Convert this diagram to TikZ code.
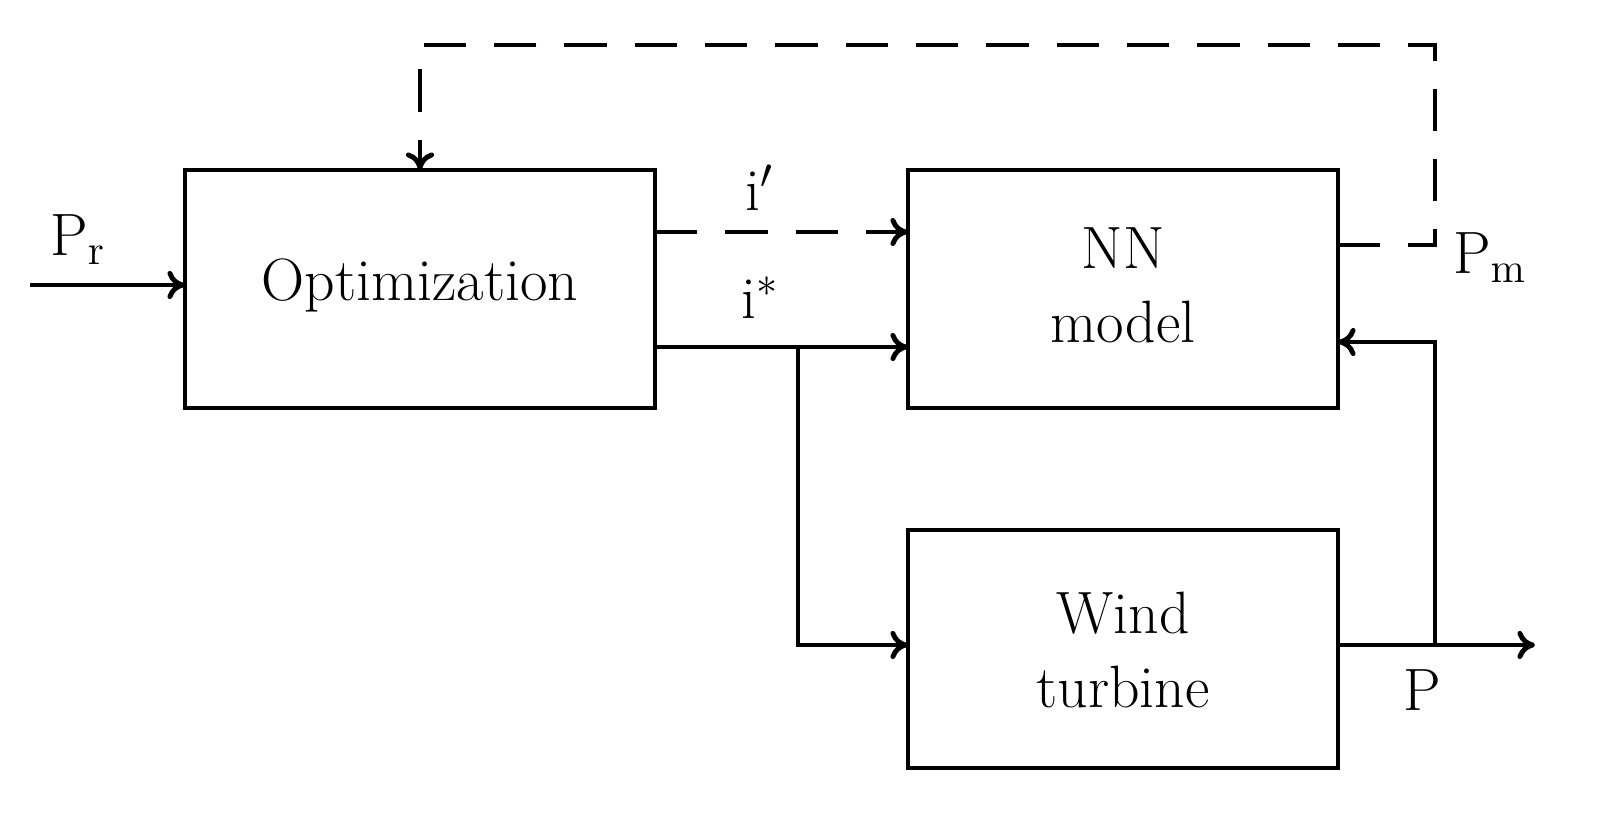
\documentclass[tikz,border=0pt]{standalone}
\usetikzlibrary{arrows.meta}
\begin{document}
\begin{tikzpicture}[x=0.01cm,y=-0.01cm,
  lab/.style={font=\fontsize{17}{21}\selectfont,align=center},
  ln/.style={line width=1.4pt},
  arr/.style={ln,-{To[length=5pt,width=8pt]}},
  dsh/.style={dash pattern=on 12pt off 8pt}]
\useasboundingbox (0,0) rectangle (1614,831);
\draw[line width=1.4pt] (185,170) rectangle (655,408);
\node[lab] (opt) at (420,285) {Optimization};
\coordinate (optN) at (420,170);
\draw[line width=1.4pt] (908,170) rectangle (1338,408);
\node[lab] (nn) at (1123,285) {NN\\model};
\draw[line width=1.4pt] (908,530) rectangle (1338,768);
\node[lab] (wt) at (1123,650) {Wind\\turbine};
\coordinate (in) at (30,285);
\coordinate (optW) at (185,285);
\draw[arr] (in) -- (optW);
\node[lab] (pr) at (78,240) {P$_{\mathrm r}$};
\coordinate (a1) at (655,232); \coordinate (a2) at (908,232);
\draw[arr,dsh] (a1) -- (a2);
\node[lab] (ip) at (760,188) {i$'$};
\coordinate (b1) at (655,347); \coordinate (b2) at (908,347);
\coordinate (br) at (798,347); \coordinate (br2) at (798,645); \coordinate (wtW) at (908,645);
\draw[arr] (b1) -- (b2);
\draw[arr] (br) -- (br2) -- (wtW);
\node[lab] (is) at (760,298) {i$^{*}$};
\coordinate (wtE) at (1338,645); \coordinate (out) at (1535,645);
\draw[arr] (wtE) -- (out);
\node[lab] (p) at (1422,690) {P};
\coordinate (c1) at (1435,645); \coordinate (c2) at (1435,342); \coordinate (nnE) at (1338,342);
\draw[arr] (c1) -- (c2) -- (nnE);
\coordinate (d1) at (1338,245); \coordinate (d2) at (1435,245); \coordinate (d3) at (1435,45); \coordinate (d4) at (420,45);
\draw[arr,dsh] (d1) -- (d2) -- (d3) -- (d4) -- (optN);
\node[lab] (pm) at (1490,258) {P$_{\mathrm m}$};
\end{tikzpicture}
\end{document}
